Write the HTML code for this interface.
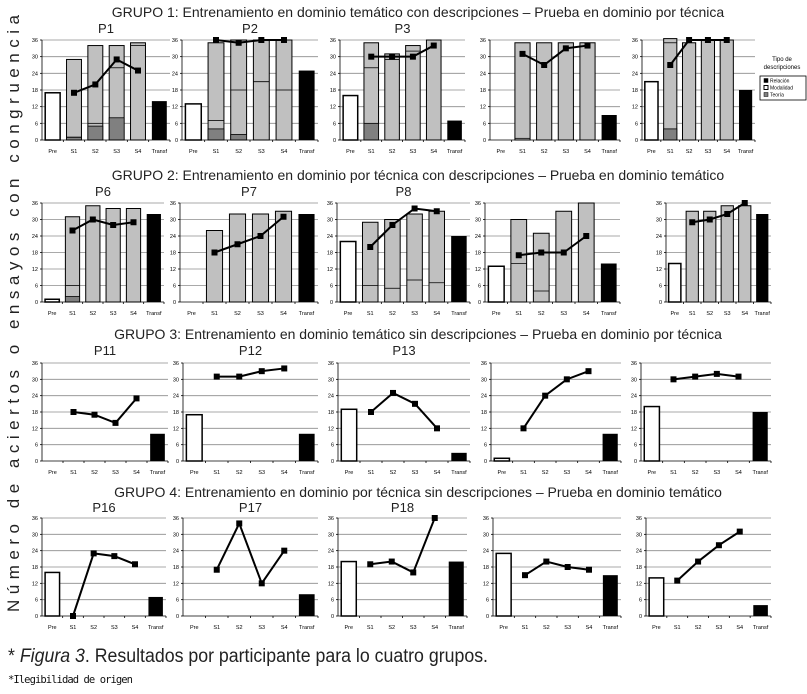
<!DOCTYPE html>
<html><head><meta charset="utf-8">
<style>
html,body{margin:0;padding:0;background:#fff;}
svg{display:block;font-family:"Liberation Sans",sans-serif;}
</style></head>
<body>
<svg id="fig" width="807" height="694" viewBox="0 0 807 694" xmlns="http://www.w3.org/2000/svg">
<text transform="translate(19,612) rotate(-90)" font-size="17" fill="#222" textLength="597" lengthAdjust="spacing">Número de aciertos o ensayos con congruencia</text>
<g id="charts"></g>
<g font-size="5" fill="#000">
<text x="782" y="61" text-anchor="middle" font-size="6">Tipo de</text>
<text x="782" y="69" text-anchor="middle" font-size="6">descripciones</text>
<rect x="760" y="76" width="46" height="24" fill="#fff" stroke="#000" stroke-width="0.8"/>
<rect x="764" y="78.5" width="4" height="4" fill="#000" stroke="#000" stroke-width="0.5"/><text x="770" y="82.5">Relación</text>
<rect x="764" y="85.5" width="4" height="4" fill="#fff" stroke="#000" stroke-width="1"/><text x="770" y="89.5">Modalidad</text>
<rect x="764" y="92.5" width="4" height="4" fill="#808080" stroke="#000" stroke-width="0.5"/><text x="770" y="96.5">Teoría</text>
</g>
<text x="8" y="662" font-size="19" fill="#222" textLength="480" lengthAdjust="spacingAndGlyphs">* <tspan font-style="italic">Figura 3</tspan>. Resultados por participante para lo cuatro grupos.</text>
<text x="8" y="683" font-size="10.5" fill="#111" font-family="DejaVu Sans Mono, Liberation Mono, monospace" textLength="125">*Ilegibilidad de origen</text>
</svg>
<script>
const categories = ["Pre","S1","S2","S3","S4","Transf"];
const yTicks = [0,6,12,18,24,30,36];
const groupTitles = [
 "GRUPO 1: Entrenamiento en dominio temático con descripciones  – Prueba en dominio por técnica",
 "GRUPO 2: Entrenamiento en dominio por técnica con descripciones  – Prueba en dominio temático",
 "GRUPO 3: Entrenamiento en dominio temático sin descripciones  – Prueba en dominio por técnica",
 "GRUPO 4: Entrenamiento en dominio por técnica sin descripciones  – Prueba en dominio temático"];
const panelLabels = ["P1","P2","P3","","","P6","P7","P8","","","P11","P12","P13","","","P16","P17","P18","",""];
const preVals = [17,13,16,0,21, 1,0,22,13,14, 0,17,19,1,20, 16,0,20,23,14];
const transfVals = [14,25,7,9,18, 32,32,24,14,32, 10,10,3,10,18, 7,8,20,15,4];
const lineVals = [
 [17,20,29,25],[36,35,36,36],[30,30,30,34],[31,27,33,34],[27,36,36,36],
 [26,30,28,29],[18,21,24,31],[20,28,34,33],[17,18,18,24],[29,30,32,36],
 [18,17,14,23],[31,31,33,34],[18,25,21,12],[12,24,30,33],[30,31,32,31],
 [0,23,22,19],[17,34,12,24],[19,20,16,36],[15,20,18,17],[13,20,26,31]];
const barTotals = [
 [29,34,34,35],[35,36,36,36],[35,31,34,36],[35,35,35,35],[36.5,35,36,36],
 [31,35,34,34],[26,32,32,33],[29,30,32,33],[30,25,33,36],[33,33,35,35]];
const barDark = [
 [1,5,8,0],[4,2,0,0],[6,0,0,0],[0,0,0,0],[4,0,0,0],
 [2,0,0,0],[0,0,0,0],[0,0,0,0],[0,0,0,0],[0,0,0,0]];
const barDiv = [
 [1,6,26,34],[7,18,21,18],[26,29,32,0],[0.6,0,0,0],[35,0,0,0],
 [6,0,0,0],[0,0,0,0],[6,5,8,7],[14,4,0,0],[0,0,0,0]];

const rowY = [[40,140],[203,302],[363,461],[518,616]];
const colX = [
 [[42,170],[182,318],[340,465],[490,620],[642,755]],
 [[42,164],[180,318],[337,470],[485,620],[666,771]],
 [[42,168],[183,318],[338,470],[491,621],[641,771]],
 [[42,166],[183,318],[338,467],[493,621],[646,771]]];
const titleY = [17,180,339,497];
const labelY = [33,196,355,512];

const NS="http://www.w3.org/2000/svg";
const root=document.getElementById('charts');
function mk(tag,attrs,parent){const e=document.createElementNS(NS,tag);for(const k in attrs)e.setAttribute(k,attrs[k]);(parent||root).appendChild(e);return e;}

for(let r=0;r<4;r++){
  const t=mk('text',{x:418,y:titleY[r],'text-anchor':'middle','font-size':14,fill:'#222'});
  
  
  t.textContent=groupTitles[r];
  for(let c=0;c<5;c++){
    const p=r*5+c;
    const [x0,x1]=colX[r][c];
    const [yt,yb]=rowY[r];
    const g=mk('g',{});
    
    
    const yS=v=>yb-(v/36)*(yb-yt);
    const cw=(x1-x0)/6;
    const xC=i=>x0+cw*(i+0.5);
    const bw=cw*0.7;
    yTicks.forEach(v=>{
      if(v>0){const gl=mk('line',{x1:x0,x2:x1,y1:yS(v),y2:yS(v),stroke:'#8c8c8c','stroke-width':0.8},g);
      }
      mk('line',{x1:x0-2,x2:x0,y1:yS(v),y2:yS(v),stroke:'#000','stroke-width':0.8},g);
      const tl=mk('text',{x:x0-4,y:yS(v)+2,'text-anchor':'end','font-size':5.5,fill:'#000'},g);
      
      tl.textContent=v;
    });
    categories.forEach((cat,i)=>{
      mk('line',{x1:x0+cw*(i+1),x2:x0+cw*(i+1),y1:yb,y2:yb+2,stroke:'#000','stroke-width':0.8},g);
      const xl=mk('text',{x:xC(i),y:yb+13,'text-anchor':'middle','font-size':5.5,fill:'#000'},g);
      
      xl.textContent=cat;
    });
    if(preVals[p]>0){
      const b=mk('rect',{x:xC(0)-bw/2,y:yS(preVals[p]),width:bw,height:yb-yS(preVals[p]),fill:'#fff',stroke:'#000','stroke-width':1.5},g);
      
    }
    if(r<2){
      for(let s=0;s<4;s++){
        const tot=barTotals[p][s],dk=barDark[p][s],dv=barDiv[p][s];
        const b=mk('rect',{x:xC(s+1)-bw/2,y:yS(tot),width:bw,height:yb-yS(tot),fill:'#c0c0c0',stroke:'#000','stroke-width':1},g);
        
        if(dk>0){const d=mk('rect',{x:xC(s+1)-bw/2,y:yS(dk),width:bw,height:yb-yS(dk),fill:'#808080',stroke:'#000','stroke-width':0.8},g);
          }
        if(dv>0){const l=mk('line',{x1:xC(s+1)-bw/2,x2:xC(s+1)+bw/2,y1:yS(dv),y2:yS(dv),stroke:'#000','stroke-width':0.8},g);
          }
      }
    }
    const tb=mk('rect',{x:xC(5)-bw/2,y:yS(transfVals[p]),width:bw,height:yb-yS(transfVals[p]),fill:'#000'},g);
    
    mk('line',{x1:x0,x2:x0,y1:yt,y2:yb,stroke:'#000','stroke-width':0.8},g);
    mk('line',{x1:x0,x2:x1,y1:yb,y2:yb,stroke:'#000','stroke-width':0.8},g);
    const pts=lineVals[p].map((v,s)=>xC(s+1)+','+yS(v)).join(' ');
    const pl=mk('polyline',{points:pts,fill:'none',stroke:'#000','stroke-width':2},g);
    
    lineVals[p].forEach((v,s)=>{
      const m=mk('rect',{x:xC(s+1)-3,y:yS(v)-3,width:6,height:6,fill:'#000'},g);
      
    });
    if(panelLabels[p]){
      const pt=mk('text',{x:(x0+x1)/2,y:labelY[r],'text-anchor':'middle','font-size':13,fill:'#222'},g);
      
      pt.textContent=panelLabels[p];
    }
  }
}
</script>
</body></html>
